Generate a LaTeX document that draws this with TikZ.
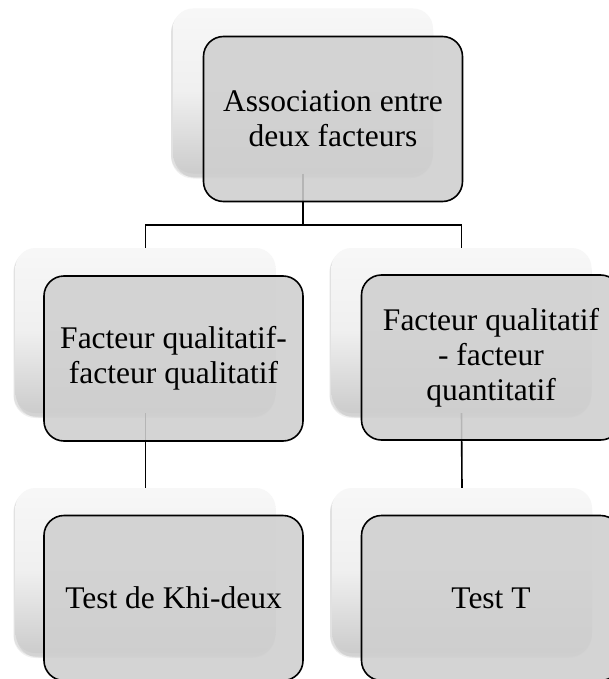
\documentclass[tikz,border=0pt]{standalone}
\usepackage{fontspec}
\setmainfont{Liberation Serif}
\begin{document}
\begin{tikzpicture}[x=1pt,y=-1pt,
  backbox/.style={rounded corners=20pt, minimum width=260pt, minimum height=165pt,
    inner sep=0pt, top color=black!3, bottom color=black!20, middle color=black!6, shading angle=0},
  shadowbox/.style={rounded corners=22pt, minimum width=262pt, minimum height=167pt,
    inner sep=0pt, fill=black, fill opacity=0.06, draw=none},
  frontbox/.style={rounded corners=20pt, minimum width=259pt, minimum height=165pt,
    inner sep=0pt, fill=black!19, fill opacity=0.88, text opacity=1, draw=black, line width=1.6pt,
    align=center, font=\fontsize{31.5}{35}\selectfont},
  conn/.style={draw=black, line width=1.6pt}]
\useasboundingbox (0,0) rectangle (609,679);
\fill[white] (0,0) rectangle (609,679);
% shadows
\foreach \p/\q in {303/91, 145.5/330.5, 461.5/330.5, 145.5/570.5, 462/570.5}{
  \node[shadowbox] at (\p-1,\q+4) {};
  \node[shadowbox] at (\p-1,\q+2.5) {};
  \node[shadowbox, minimum width=258pt, minimum height=163pt] at (\p,\q+5.5) {};
}
% back boxes
\node[backbox] (t0) at (303,91) {};
\node[backbox] (l0) at (145.5,330.5) {};
\node[backbox] (r0) at (461.5,330.5) {};
\node[backbox] (lb0) at (145.5,570.5) {};
\node[backbox] (rb0) at (462,570.5) {};
% connectors
\coordinate (bus) at (0,225);
\draw[conn] (t0.south) -- (t0.south |- bus);
\draw[conn] (l0.north) -- (l0.north |- bus) -- (r0.north |- bus) -- (r0.north);
\draw[conn] (l0.south) -- (lb0.north);
\draw[conn] (r0.south) -- (rb0.north);
% front boxes
\node[frontbox] (t1) at (333,119) {Association entre\\deux facteurs};
\node[frontbox] (l1) at (173.5,358.5) {Facteur qualitatif-\\facteur qualitatif};
\node[frontbox] (r1) at (491,357.5) {Facteur qualitatif\\- facteur\\quantitatif};
\node[frontbox] (lb1) at (173.5,598) {Test de Khi-deux};
\node[frontbox] (rb1) at (491,598) {Test T};
\end{tikzpicture}
\end{document}
